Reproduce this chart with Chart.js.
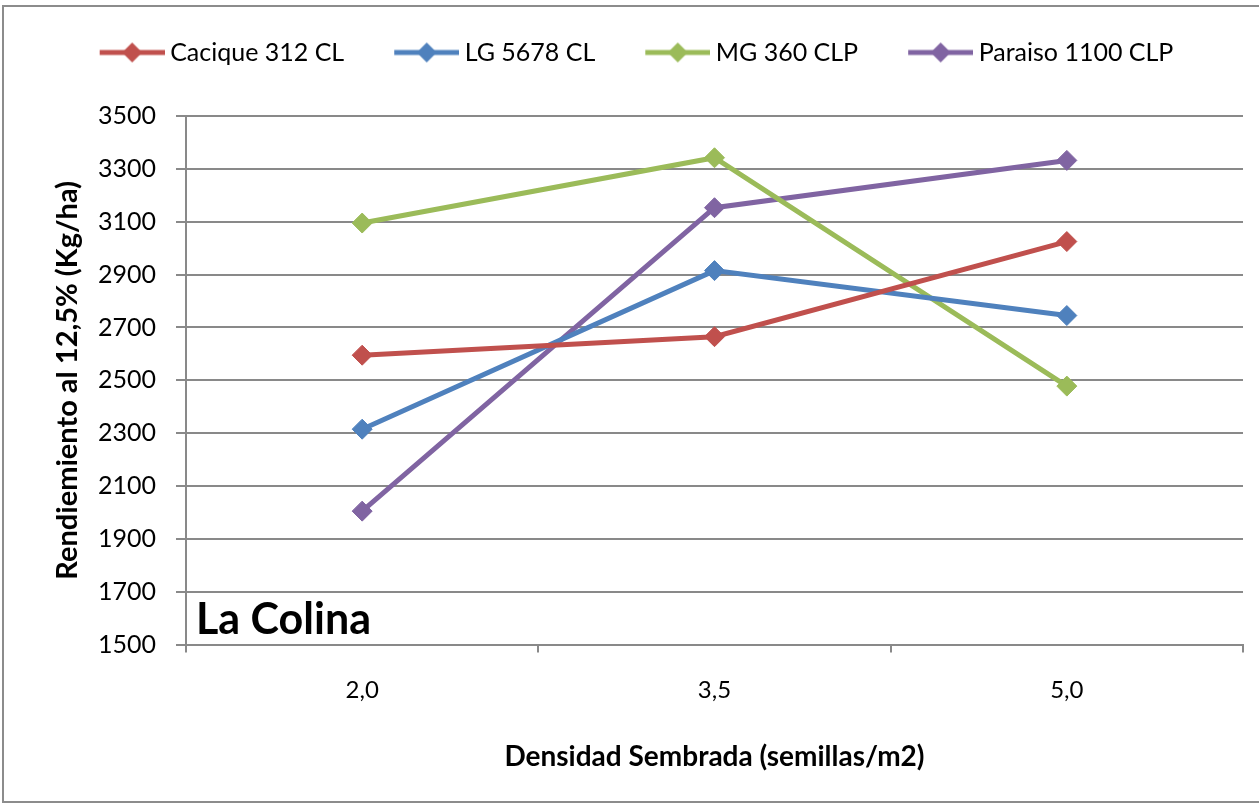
<!DOCTYPE html>
<html>
<head>
<meta charset="utf-8">
<script src="https://cdn.jsdelivr.net/npm/chart.js@4"></script>
<style>
  html, body { margin: 0; padding: 0; background: #fff; }
  #wrap { position: absolute; left: 0; top: 0; width: 1259px; height: 806px; }
</style>
</head>
<body>
<div id="wrap"><canvas id="myChart" width="1259" height="806"></canvas></div>
<script>
// datos
var densidades = ['2,0', '3,5', '5,0'];
var cacique = [2595, 2665, 3025];
var lg5678 = [2315, 2915, 2745];
var mg360 = [3095, 3342, 2478];
var paraiso = [2005, 3153, 3332];
var yTicks = [1500, 1700, 1900, 2100, 2300, 2500, 2700, 2900, 3100, 3300, 3500];

var colores = ['#C0504D', '#4F81BD', '#9BBB59', '#8064A2'];
var nombres = ['Cacique 312 CL', 'LG 5678 CL', 'MG 360 CLP', 'Paraiso 1100 CLP'];
var series = [cacique, lg5678, mg360, paraiso];
var fuente = 'Lato, "Open Sans", sans-serif';
var gris = '#898989';

// icono de leyenda: linea con rombo (margen izquierdo transparente)
function iconoLeyenda(color) {
  var c = document.createElement('canvas');
  c.width = 82; c.height = 24;
  var g = c.getContext('2d');
  g.strokeStyle = color;
  g.lineWidth = 5;
  g.beginPath(); g.moveTo(17, 12); g.lineTo(82, 12); g.stroke();
  g.fillStyle = color;
  var cx = 49.5;
  g.beginPath();
  g.moveTo(cx - 10, 12); g.lineTo(cx, 2); g.lineTo(cx + 10, 12); g.lineTo(cx, 22);
  g.closePath(); g.fill();
  return c;
}

var datasets = [];
for (let i = 0; i < series.length; i++) {
  datasets.push({
    label: nombres[i],
    data: series[i],
    borderColor: colores[i],
    backgroundColor: colores[i],
    borderWidth: 5,
    pointStyle: 'rectRot',
    pointRadius: 10,
    pointBorderWidth: 1,
    pointBackgroundColor: colores[i],
    pointBorderColor: colores[i],
    tension: 0
  });
}

// espacio extra bajo la leyenda, y leyenda un poco a la derecha
var espacioLeyenda = {
  id: 'espacioLeyenda',
  beforeInit: function(chart) {
    var fitOrig = chart.legend.fit;
    chart.legend.fit = function() {
      fitOrig.bind(chart.legend)();
      this.height += 41;
    };
  },
  afterLayout: function(chart) {
    chart.legend.left += 10;
    chart.legend.right += 10;
  }
};

// marco y texto "La Colina"
var extras = {
  id: 'extras',
  afterDraw: function(chart) {
    var ctx = chart.ctx;
    var a = chart.chartArea;
    ctx.save();
    ctx.strokeStyle = '#8c8c8c';
    ctx.lineWidth = 2;
    ctx.strokeRect(3, 6, 1270, 796);
    ctx.fillStyle = '#000';
    ctx.font = 'bold 43px ' + fuente;
    ctx.textBaseline = 'middle';
    ctx.textAlign = 'left';
    ctx.fillText('La Colina', a.left + 10, a.bottom - 24);
    ctx.restore();
  }
};

var ctx = document.getElementById('myChart').getContext('2d');
var myChart = new Chart(ctx, {
  type: 'line',
  data: { labels: densidades, datasets: datasets },
  plugins: [espacioLeyenda, extras],
  options: {
    responsive: false,
    animation: false,
    layout: { padding: { left: 0, right: 16, top: 0, bottom: 0 } },
    plugins: {
      tooltip: { enabled: false },
      legend: {
        position: 'top',
        labels: {
          usePointStyle: true,
          pointStyleWidth: 68,
          padding: 40,
          color: '#000',
          font: { family: fuente, size: 25 },
          generateLabels: function(chart) {
            return chart.data.datasets.map(function(d, i) {
              return {
                text: d.label,
                pointStyle: iconoLeyenda(d.borderColor),
                fillStyle: d.borderColor,
                strokeStyle: d.borderColor,
                lineWidth: 0,
                datasetIndex: i,
                hidden: false
              };
            });
          }
        }
      }
    },
    scales: {
      x: {
        offset: true,
        grid: {
          display: true,
          offset: true,
          drawOnChartArea: false,
          drawTicks: true,
          tickLength: 8,
          color: gris,
          lineWidth: 2
        },
        border: { display: true, color: gris, width: 2 },
        ticks: { color: '#000', font: { family: fuente, size: 24 }, padding: 23 },
        title: {
          display: true,
          text: 'Densidad Sembrada (semillas/m2)',
          color: '#000',
          font: { family: fuente, size: 28, weight: 'bold' },
          padding: { top: 13, bottom: 32 }
        }
      },
      y: {
        min: 1500,
        max: 3500,
        afterBuildTicks: function(axis) {
          axis.ticks = yTicks.map(function(v) { return { value: v }; });
        },
        afterFit: function(axis) { axis.width = 186; },
        grid: {
          color: gris,
          lineWidth: 2,
          drawTicks: true,
          tickLength: 10
        },
        border: { display: true, color: gris, width: 2 },
        ticks: {
          color: '#000',
          font: { family: fuente, size: 25 },
          padding: 20,
          callback: function(v) { return String(v); }
        },
        title: {
          display: true,
          text: 'Rendiemiento al 12,5% (Kg/ha)',
          color: '#000',
          font: { family: fuente, size: 29, weight: 'bold' },
          padding: { top: 50, bottom: 10 }
        }
      }
    }
  }
});
</script>
</body>
</html>
